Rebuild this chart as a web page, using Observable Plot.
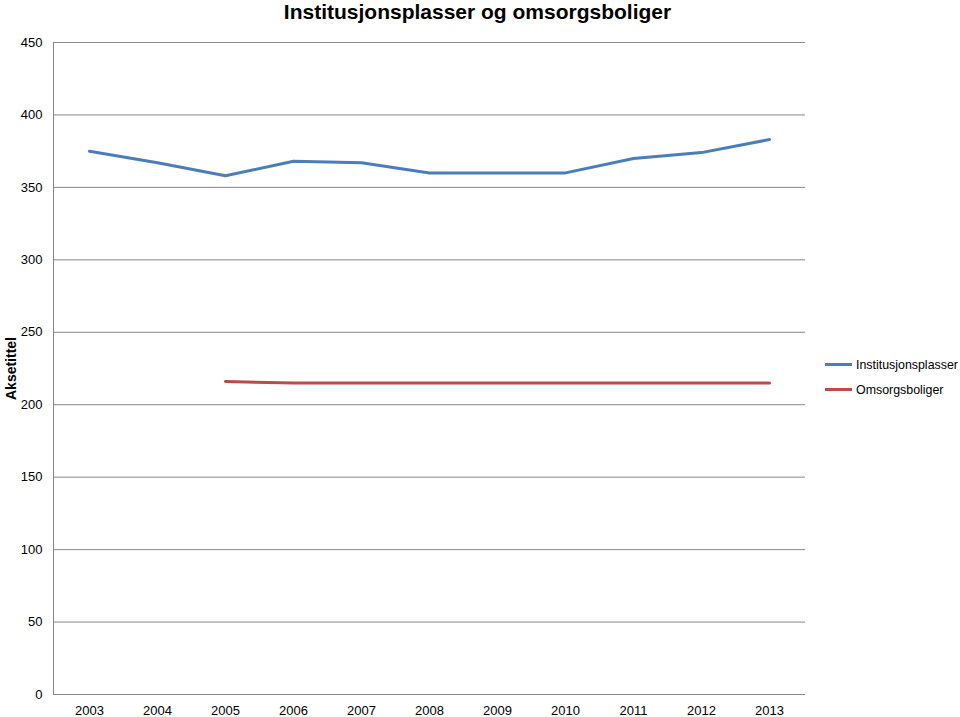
<!DOCTYPE html>
<html>
<head>
<meta charset="utf-8">
<script src="https://cdn.jsdelivr.net/npm/d3@7"></script>
<script src="https://cdn.jsdelivr.net/npm/@observablehq/plot@0.6"></script>
<style>
  html, body { margin: 0; padding: 0; background: #fff; }
  #wrap { position: relative; width: 960px; height: 717px; font-family: "Liberation Sans", Arial, sans-serif; }
  #title { position: absolute; top: 0px; left: 0px; width: 955px; text-align: center; font-weight: bold; font-size: 21px; line-height: 24px; color: #000; white-space: nowrap; z-index: 2; }
  #legend { position: absolute; left: 825px; top: 352px; font-size: 12.4px; color: #000; white-space: nowrap; }
  #legend .item { display: flex; align-items: center; height: 25px; }
  #legend .sw { width: 27px; height: 3px; margin-right: 4px; flex: none; }
  #wrap svg [aria-label="y-axis label"] text { font-weight: bold; font-size: 14px; }
</style>
</head>
<body>
<div id="wrap">
  <div id="title">Institusjonsplasser og omsorgsboliger</div>
  <div id="legend"></div>
</div>
<script>
const years = ["2003","2004","2005","2006","2007","2008","2009","2010","2011","2012","2013"];
const institusjonsplasser = [375, 367, 358, 368, 367, 360, 360, 360, 370, 374, 383];
const omsorgsboliger = [null, null, 216, 215, 215, 215, 215, 215, 215, 215, 215];
const seriesNames = ["Institusjonsplasser", "Omsorgsboliger"];
const seriesColors = ["#4A7EBB", "#BE4B48"];
const yTicks = [0, 50, 100, 150, 200, 250, 300, 350, 400, 450];

const rows = [];
[institusjonsplasser, omsorgsboliger].forEach((vals, i) => {
  vals.forEach((v, j) => { if (v != null) rows.push({year: years[j], value: v, series: seriesNames[i]}); });
});

const chart = Plot.plot({
  width: 960,
  height: 717,
  marginLeft: 53,
  marginRight: 155,
  marginTop: 42,
  marginBottom: 23,
  style: { fontFamily: "Liberation Sans, Arial, sans-serif", fontSize: "13px", color: "#000", background: "#fff" },
  x: { type: "point", domain: years, padding: 0.5, align: 0.5 },
  y: { domain: [0, 450] },
  color: { domain: seriesNames, range: seriesColors },
  marks: [
    Plot.gridY(yTicks, { stroke: "#878787", strokeOpacity: 1, strokeWidth: 1 }),
    Plot.frame({ anchor: "left", stroke: "#878787", strokeOpacity: 1 }),
    Plot.axisY(yTicks, { tickSize: 0, tickPadding: 11, label: "Aksetittel", labelAnchor: "center", labelOffset: 47, labelArrow: "none", fontSize: 13 }),
    Plot.axisX({ tickSize: 0, tickPadding: 11, label: null, fontSize: 13 }),
    Plot.line(rows, { x: "year", y: "value", z: "series", stroke: "series", strokeWidth: 3, strokeLinejoin: "miter" })
  ]
});

document.getElementById("wrap").appendChild(chart);

const legend = document.getElementById("legend");
seriesNames.forEach((n, i) => {
  const d = document.createElement("div");
  d.className = "item";
  d.innerHTML = `<span class="sw" style="background:${seriesColors[i]}"></span><span>${n}</span>`;
  legend.appendChild(d);
});
</script>
</body>
</html>
